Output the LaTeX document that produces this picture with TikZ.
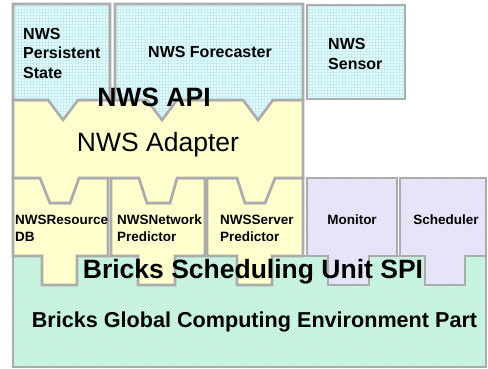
\documentclass[tikz,border=0pt]{standalone}
\usepackage{fontspec}
\setmainfont{Liberation Sans}
\usetikzlibrary{patterns}
\definecolor{edgegray}{RGB}{172,172,172}
\definecolor{cyanbase}{RGB}{230,250,252}
\definecolor{cyanline}{RGB}{196,238,244}
\definecolor{yellowfill}{RGB}{255,255,206}
\definecolor{lavbase}{RGB}{236,236,252}
\definecolor{lavline}{RGB}{214,214,244}
\definecolor{mintbase}{RGB}{214,249,234}
\definecolor{mintline}{RGB}{168,232,206}
\tikzset{
  blk/.style={draw=edgegray, line width=2.6pt, line join=miter},
  upperblk/.style={blk, preaction={fill=cyanbase}, pattern=grid, pattern color=cyanline},
  yelblk/.style={blk, fill=yellowfill},
  lavblk/.style={blk, preaction={fill=lavbase}, pattern=north east lines, pattern color=lavline},
  greenblk/.style={blk, preaction={fill=mintbase}, pattern=north east lines, pattern color=mintline},
  uppertxt/.style={inner sep=0pt, font=\bfseries\fontsize{16}{19.5}\selectfont, align=left},
  lowertxt/.style={inner sep=0pt, font=\bfseries\fontsize{13.5}{17}\selectfont, align=left},
  bigbold/.style={inner sep=0pt, font=\bfseries\fontsize{26.5}{30}\selectfont},
  bigreg/.style={inner sep=0pt, font=\fontsize{26.5}{30}\selectfont},
  midbold/.style={inner sep=0pt, font=\bfseries\fontsize{21.6}{26}\selectfont}
}
\begin{document}
\begin{tikzpicture}[x=1pt,y=-1pt]
\useasboundingbox (0,0) rectangle (488,369);
\fill[white] (0,0) rectangle (488,369);
% green base
\path[greenblk] (13,256) rectangle (486,367);
% lower row
\path[yelblk] (13,178) -- (40,178) -- (50,203) -- (70,203) -- (79,178) -- (108,178) -- (108,256) -- (77,256) -- (77,285) -- (42,285) -- (42,256) -- (13,256) -- cycle;
\path[yelblk] (111,178) -- (139,178) -- (147,203) -- (170,203) -- (177,178) -- (205,178) -- (205,256) -- (175,256) -- (175,285) -- (138,285) -- (138,256) -- (111,256) -- cycle;
\path[yelblk] (207,178) -- (237,178) -- (245,203) -- (265,203) -- (275,178) -- (303,178) -- (303,256) -- (272,256) -- (272,285) -- (237,285) -- (237,256) -- (207,256) -- cycle;
\path[lavblk] (307,178) -- (397,178) -- (397,256) -- (369,256) -- (369,285) -- (328,285) -- (328,256) -- (307,256) -- cycle;
\path[lavblk] (400,178) -- (486,178) -- (486,256) -- (465,256) -- (465,285) -- (425,285) -- (425,256) -- (400,256) -- cycle;
% adapter
\path[yelblk] (13,100) -- (303,100) -- (303,178) -- (275,178) -- (265,203) -- (245,203) -- (237,178) -- (177,178) -- (170,203) -- (147,203) -- (139,178) -- (79,178) -- (70,203) -- (50,203) -- (40,178) -- (13,178) -- cycle;
% upper row
\path[upperblk] (13,4) -- (110,4) -- (110,100) -- (78,100) -- (63,120) -- (48,100) -- (13,100) -- cycle;
\path[upperblk] (115,4) -- (303,4) -- (303,100) -- (273,100) -- (258,120) -- (243,100) -- (177,100) -- (162,120) -- (147,100) -- (115,100) -- cycle;
\path[upperblk] (307,5) rectangle (405,99);
% texts
\node[uppertxt, anchor=west] (pstate) at (23,53) {NWS\\Persistent\\State};
\node[uppertxt] (fcast) at (210,52) {NWS Forecaster};
\node[uppertxt, anchor=west] (sensor) at (328,54) {NWS\\Sensor};
\node[bigbold] (api) at (154,97) {NWS API};
\node[bigreg] (adapter) at (158,145) {NWS Adapter};
\node[lowertxt, anchor=west] (resdb) at (15,228) {NWSResource\\DB};
\node[lowertxt, anchor=west] (netpred) at (117,228) {NWSNetwork\\Predictor};
\node[lowertxt, anchor=west] (srvpred) at (220,228) {NWSServer\\Predictor};
\node[lowertxt] (monitor) at (352,220) {Monitor};
\node[lowertxt] (sched) at (446,220) {Scheduler};
\node[bigbold] (spi) at (253,272) {Bricks Scheduling Unit SPI};
\node[midbold] (gce) at (254.5,322) {Bricks Global Computing Environment Part};
\end{tikzpicture}
\end{document}
